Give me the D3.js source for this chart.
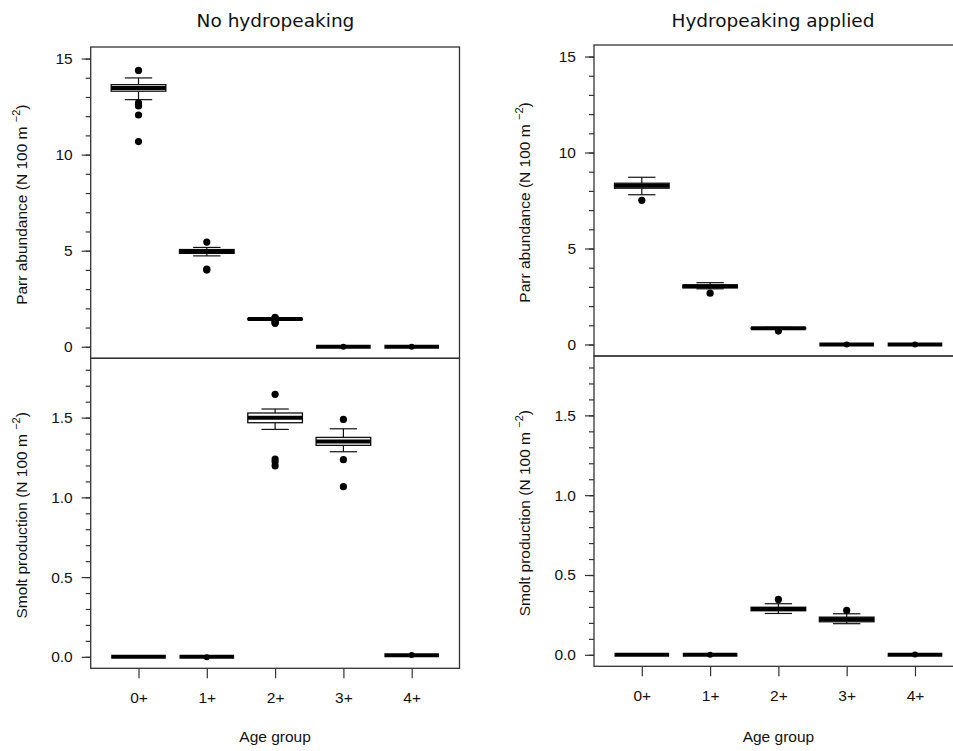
<!DOCTYPE html>
<html>
<head>
<meta charset="utf-8">
<script src="https://cdn.jsdelivr.net/npm/d3@7"></script>
<style>
  body { margin: 0; background: #fff; }
  .axis text { font-family: "Liberation Sans", Arial, sans-serif; font-size: 15.5px; fill: #111; }
  .axis line { stroke: #333; stroke-width: 1.2; }
  .axis path { display: none; }
  .label { font-family: "Liberation Sans", Arial, sans-serif; font-size: 15.5px; fill: #111; }
  .title { font-family: "DejaVu Sans", sans-serif; font-size: 18.5px; fill: #111; }
</style>
</head>
<body>
<div id="chart"></div>
<script>
// age groups on the x axis
var ageGroups = ["0+", "1+", "2+", "3+", "4+"];

// box stats per age group: [lower whisker, q1, median, q3, upper whisker]
var parrNoHp = [
  [12.86, 13.30, 13.46, 13.64, 13.99],
  [4.73, 4.86, 4.96, 5.06, 5.17],
  [1.38, 1.42, 1.44, 1.46, 1.50],
  [0, 0, 0, 0, 0],
  [0, 0, 0, 0, 0]
];
var parrNoHpOut = [[14.38, 12.70, 12.58, 12.53, 12.06, 10.68], [5.45, 4.04, 3.99], [1.53, 1.50, 1.30, 1.25, 1.22], [0], [0]];

var smoltNoHp = [
  [0, 0, 0, 0, 0],
  [0, 0, 0, 0, 0],
  [1.426, 1.468, 1.499, 1.529, 1.554],
  [1.286, 1.326, 1.351, 1.376, 1.430],
  [0.010, 0.010, 0.010, 0.010, 0.010]
];
var smoltNoHpOut = [[], [-0.002], [1.646, 1.240, 1.223, 1.198], [1.489, 1.236, 1.067], [0.011]];

var parrHp = [
  [7.80, 8.14, 8.27, 8.40, 8.71],
  [2.90, 2.95, 3.03, 3.10, 3.22],
  [0.80, 0.82, 0.84, 0.86, 0.89],
  [0, 0, 0, 0, 0],
  [0, 0, 0, 0, 0]
];
var parrHpOut = [[7.51], [2.67], [0.70], [0], [0]];

var smoltHp = [
  [0, 0, 0, 0, 0],
  [0, 0, 0, 0, 0],
  [0.259, 0.276, 0.287, 0.298, 0.320],
  [0.195, 0.207, 0.222, 0.236, 0.257],
  [0, 0, 0, 0, 0]
];
var smoltHpOut = [[], [0], [0.347], [0.278], [0.002]];

var titles = ["No hydropeaking", "Hydropeaking applied"];
var parrLabel = "Parr abundance (N 100 m";
var smoltLabel = "Smolt production (N 100 m";
var xLabel = "Age group";

var svgWidth = 953;
var svgHeight = 751;

var svg = d3.select("#chart")
  .append("svg")
  .attr("width", svgWidth)
  .attr("height", svgHeight);

// page layout of the two columns
var columns = [
  { x0: 90.7, x1: 459.5, top: 47, mid: 358.3, bottom: 668.3, titleX: 275.5,
    parr: parrNoHp, parrOut: parrNoHpOut, smolt: smoltNoHp, smoltOut: smoltNoHpOut },
  { x0: 594, x1: 962.8, top: 45, mid: 356, bottom: 666.3, titleX: 773,
    parr: parrHp, parrOut: parrHpOut, smolt: smoltHp, smoltOut: smoltHpOut }
];

columns.forEach(function(col, ci) {
  var x = d3.scaleLinear().domain([0.3, 5.7]).range([col.x0, col.x1]);
  // R style boxwex of 0.8
  var boxW = x(1.8) - x(1);

  var yParr = d3.scaleLinear().domain([-0.6, 15.6]).range([col.mid, col.top]);
  var ySmolt = d3.scaleLinear().domain([-0.072, 1.872]).range([col.bottom, col.mid]);

  svg.append("text")
    .attr("class", "title")
    .attr("x", col.titleX)
    .attr("y", 26.5)
    .attr("text-anchor", "middle")
    .text(titles[ci]);

  var panels = [
    { y: yParr, stats: col.parr, out: col.parrOut, major: [0, 5, 10, 15], minor: d3.range(0, 16),
      fmt: d3.format("d"), label: parrLabel, top: col.top, bottom: col.mid },
    { y: ySmolt, stats: col.smolt, out: col.smoltOut, major: [0, 0.5, 1, 1.5], minor: d3.range(0, 19).map(d => d / 10),
      fmt: d3.format(".1f"), label: smoltLabel, top: col.mid, bottom: col.bottom }
  ];

  panels.forEach(function(p) {
    var g = svg.append("g");

    // minor ticks
    g.append("g")
      .attr("class", "axis")
      .attr("transform", `translate(${col.x0},0)`)
      .call(d3.axisLeft(p.y).tickValues(p.minor).tickSize(5).tickFormat(""));

    // major ticks
    g.append("g")
      .attr("class", "axis")
      .attr("transform", `translate(${col.x0},0)`)
      .call(d3.axisLeft(p.y).tickValues(p.major).tickSize(9).tickPadding(9).tickFormat(p.fmt));

    // y label with superscript
    var lab = g.append("text")
      .attr("class", "label")
      .attr("transform", `translate(${col.x0 - 64}, ${(p.top + p.bottom) / 2 + 2}) rotate(-90)`)
      .attr("text-anchor", "middle");
    lab.append("tspan").text(p.label + " ");
    lab.append("tspan").attr("font-size", "11px").attr("dy", -7).text("\u22122");
    lab.append("tspan").attr("dy", 7).text(")");

    // boxes
    var boxes = g.selectAll(".box")
      .data(p.stats)
      .enter()
      .append("g");

    boxes.append("line")
      .attr("x1", (d, i) => x(i + 1)).attr("x2", (d, i) => x(i + 1))
      .attr("y1", d => p.y(d[3])).attr("y2", d => p.y(d[4]))
      .attr("stroke", "#111").attr("stroke-width", 1.2);
    boxes.append("line")
      .attr("x1", (d, i) => x(i + 1)).attr("x2", (d, i) => x(i + 1))
      .attr("y1", d => p.y(d[1])).attr("y2", d => p.y(d[0]))
      .attr("stroke", "#111").attr("stroke-width", 1.2);
    // whisker caps
    [0, 4].forEach(function(k) {
      boxes.append("line")
        .attr("x1", (d, i) => x(i + 1) - boxW / 4).attr("x2", (d, i) => x(i + 1) + boxW / 4)
        .attr("y1", d => p.y(d[k])).attr("y2", d => p.y(d[k]))
        .attr("stroke", "#111").attr("stroke-width", 1.2);
    });

    boxes.append("rect")
      .attr("x", (d, i) => x(i + 1) - boxW / 2)
      .attr("width", boxW)
      .attr("y", d => p.y(d[3]))
      .attr("height", d => p.y(d[1]) - p.y(d[3]))
      .attr("fill", "#fff")
      .attr("stroke", "#111")
      .attr("stroke-width", 1.3);

    boxes.append("line")
      .attr("x1", (d, i) => x(i + 1) - boxW / 2).attr("x2", (d, i) => x(i + 1) + boxW / 2)
      .attr("y1", d => p.y(d[2])).attr("y2", d => p.y(d[2]))
      .attr("stroke", "#000").attr("stroke-width", 4);

    // outliers
    p.out.forEach(function(vals, i) {
      g.selectAll(null)
        .data(vals)
        .enter()
        .append("circle")
        .attr("cx", x(i + 1))
        .attr("cy", d => p.y(d))
        .attr("r", d => Math.abs(d) < 0.02 ? 3 : 3.6)
        .attr("fill", "#000");
    });

    // frame
    g.append("rect")
      .attr("x", col.x0).attr("y", p.top)
      .attr("width", col.x1 - col.x0).attr("height", p.bottom - p.top)
      .attr("fill", "none").attr("stroke", "#333").attr("stroke-width", 1.3);
  });

  // x axis
  svg.append("g")
    .attr("class", "axis")
    .attr("transform", `translate(0,${col.bottom})`)
    .call(d3.axisBottom(x).tickValues([1, 2, 3, 4, 5]).tickSize(10).tickPadding(14)
      .tickFormat(d => ageGroups[d - 1]));

  svg.append("text")
    .attr("class", "label")
    .attr("x", x(3))
    .attr("y", 742)
    .attr("text-anchor", "middle")
    .text(xLabel);
});
</script>
</body>
</html>
